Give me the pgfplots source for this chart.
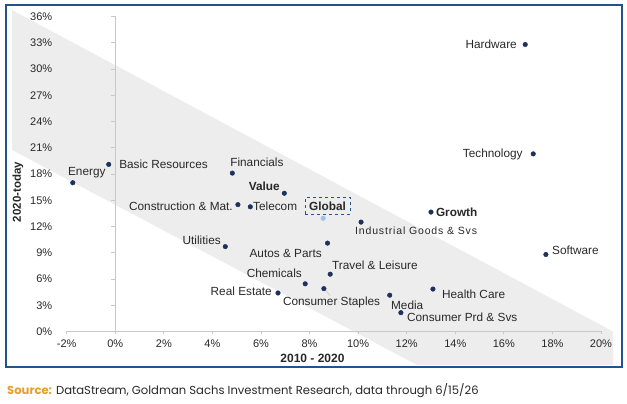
\documentclass[border=0pt]{standalone}
\usepackage{pgfplots}
\pgfplotsset{compat=1.18}
\usepackage{fontspec}
\setmainfont{Liberation Sans}
\newfontfamily\srcfont{Poppins}
\definecolor{frameblue}{RGB}{31,84,140}
\definecolor{bandgrey}{RGB}{237,237,237}
\definecolor{axisgrey}{RGB}{200,200,200}
\definecolor{txt}{RGB}{40,40,40}
\definecolor{navy}{RGB}{28,50,92}
\definecolor{lightblue}{RGB}{157,195,230}
\definecolor{srcorange}{RGB}{230,158,44}
\begin{document}
\begin{tikzpicture}
\path[use as bounding box] (0,0) rectangle (627pt,404pt);
\begin{scope}[x=1pt,y=-1pt,shift={(0pt,404pt)}]
  \fill[bandgrey] (12,10) -- (613,331.5) -- (613,365) -- (417,365) -- (12,150) -- cycle;
  \draw[frameblue,line width=2pt] (5.5,5.5) rectangle (621.5,367.5);
  \node[font=\fontsize{11.5}{13}\selectfont\bfseries,text=txt,rotate=90] at (18,192) {2020-today};
  \node[font=\fontsize{12}{14}\selectfont\bfseries,text=txt] at (312.5,358.3) {2010 - 2020};
  \node[anchor=west,inner sep=0pt,font=\fontsize{11.6}{13}\srcfont] at (7,391) {\textcolor{srcorange}{\bfseries Source:} \textcolor{txt}{DataStream, Goldman Sachs Investment Research, data through 6/15/26}};
\end{scope}
\begin{axis}[
  at={(66.7pt,72.5pt)}, anchor=south west,
  scale only axis, width=534.3pt, height=315pt,
  xmin=-2, xmax=20, ymin=0, ymax=36,
  clip=false,
  axis x line*=bottom, axis y line*=left,
  y axis line style={draw=none},
  x axis line style={draw=axisgrey,line width=0.8pt},
  xtick={-2,0,...,20}, ytick={0,3,...,36},
  xtick style={draw=axisgrey,line width=0.8pt},
  ytick style={draw=none},
  tick align=outside, major tick length=3pt,
  /pgf/number format/assume math mode=true,
  xticklabel={\pgfmathprintnumber{\tick}\%},
  yticklabel={\pgfmathprintnumber{\tick}\%},
  ticklabel style={font=\fontsize{11}{13}\selectfont,text=txt},
  yticklabel style={xshift=-8pt},
  xticklabel style={yshift=-2pt},
]
\draw[axisgrey,line width=0.8pt] (axis cs:0,0) -- (axis cs:0,36);
\pgfplotsinvokeforeach{3,6,...,36}{\draw[axisgrey,line width=0.8pt] (axis cs:0,#1) -- ++(-4pt,0pt);}
\draw[axisgrey,line width=0.5pt] (axis cs:8.59,4.9) -- (axis cs:8.85,4.1);
\addplot[only marks, mark=*, mark size=2.3pt, color=navy] coordinates {
(-1.75,17.0) (-0.27,19.1) (4.82,18.1) (6.96,15.8) (5.05,14.5) (5.56,14.25)
(4.53,9.7) (6.70,4.4) (7.82,5.45) (8.74,10.1) (8.85,6.55) (8.59,4.9)
(10.12,12.5) (13.0,13.65) (11.3,4.15) (13.08,4.85) (11.76,2.15)
(17.73,8.8) (16.88,32.8) (17.21,20.3)
};
\addplot[only marks, mark=*, mark size=2.3pt, color=lightblue] coordinates {(8.56,12.94)};
\begin{scope}[every node/.style={inner sep=0pt,text=txt,font=\fontsize{11.8}{14}\selectfont}]
\node[anchor=east] at (axis cs:16.54,32.86) {Hardware};
\node[anchor=east] at (axis cs:16.78,20.29) {Technology};
\node[anchor=west] at (axis cs:17.98,9.31) {Software};
\node[anchor=west] at (axis cs:-1.95,18.11) {Energy};
\node[anchor=west] at (axis cs:0.156,19.14) {Basic Resources};
\node[anchor=west] at (axis cs:4.73,19.37) {Financials};
\node[anchor=east,font=\fontsize{11.8}{14}\selectfont\bfseries] at (axis cs:6.78,16.63) {Value};
\node[anchor=east] at (axis cs:4.845,14.34) {Construction \& Mat.};
\node[anchor=west] at (axis cs:5.67,14.34) {Telecom};
\node[draw=frameblue,dashed,line width=0.8pt,minimum width=45pt,minimum height=16.5pt,font=\fontsize{11.8}{14}\selectfont\bfseries] at (axis cs:8.74,14.34) {Global};
\node[anchor=west,font=\fontsize{11.8}{14}\selectfont\bfseries] at (axis cs:13.2,13.66) {Growth};
\node[anchor=west,font=\fontsize{10.5}{12}\selectfont\addfontfeature{LetterSpace=8}] at (axis cs:9.87,11.49) {Industrial Goods \& Svs};
\node[anchor=east] at (axis cs:4.35,10.38) {Utilities};
\node[anchor=east] at (axis cs:8.51,8.94) {Autos \& Parts};
\node[anchor=west] at (axis cs:8.92,7.6) {Travel \& Leisure};
\node[anchor=east] at (axis cs:7.69,6.65) {Chemicals};
\node[anchor=east] at (axis cs:6.45,4.55) {Real Estate};
\node[anchor=west] at (axis cs:6.9,3.29) {Consumer Staples};
\node[anchor=west] at (axis cs:11.35,3.03) {Media};
\node[anchor=west] at (axis cs:13.45,4.29) {Health Care};
\node[anchor=west] at (axis cs:12.01,1.66) {Consumer Prd \& Svs};
\end{scope}
\end{axis}
\end{tikzpicture}
\end{document}
